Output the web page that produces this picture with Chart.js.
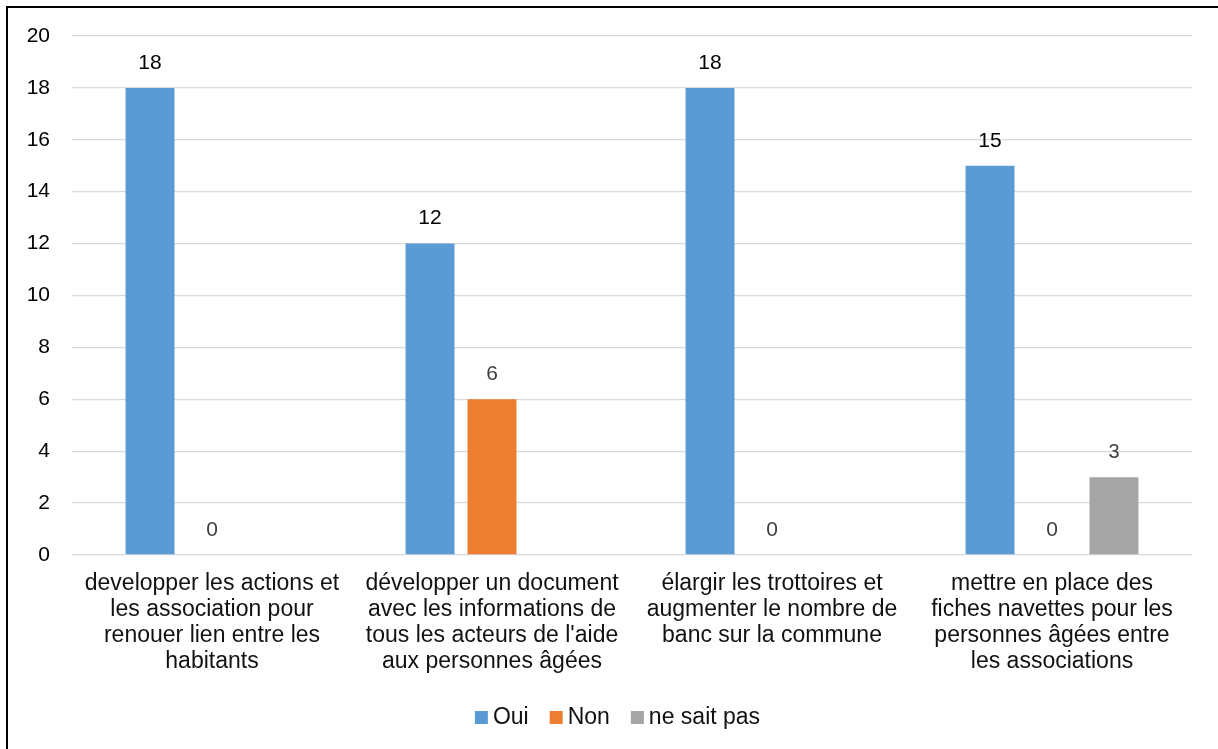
<!DOCTYPE html>
<html>
<head>
<meta charset="utf-8">
<script src="https://cdn.jsdelivr.net/npm/chart.js@4"></script>
<style>
  html, body { margin: 0; padding: 0; background: #fff; }
  #wrap { position: relative; width: 1218px; height: 749px; overflow: hidden; }
  #frame { position: absolute; left: 6px; top: 6px; width: 1300px; height: 800px;
           border-left: 2px solid #000; border-top: 2px solid #000; pointer-events: none; }
  canvas { position: absolute; left: 0; top: 0; }
</style>
</head>
<body>
<div id="wrap">
  <canvas id="c" width="1218" height="749"></canvas>
  <div id="frame"></div>
</div>
<script>
const categories = [
  ["developper les actions et", "les association pour", "renouer lien entre les", "habitants"],
  ["développer un document", "avec les informations de", "tous les acteurs de l'aide", "aux personnes âgées"],
  ["élargir les trottoires et", "augmenter le nombre de", "banc sur la commune"],
  ["mettre en place des", "fiches navettes pour les", "personnes âgées entre", "les associations"]
];
const seriesNames = ["Oui", "Non", "ne sait pas"];
const ouiValues = [18, 12, 18, 15];
const nonValues = [0, 6, 0, 0];
const nspValues = [null, null, null, 3];
const yTicks = [0, 2, 4, 6, 8, 10, 12, 14, 16, 18, 20];

const FONT = "'Liberation Sans', Arial, sans-serif";

const labelPlugin = {
  id: 'valueLabels',
  afterDatasetsDraw(chart) {
    const ctx = chart.ctx;
    ctx.save();
    ctx.textAlign = 'center';
    ctx.textBaseline = 'middle';
    chart.data.datasets.forEach((ds, di) => {
      const meta = chart.getDatasetMeta(di);
      meta.data.forEach((el, i) => {
        const v = ds.data[i];
        if (v === null || v === undefined) return;
        ctx.font = (di === 2 ? '20px ' : '21px ') + FONT;
        ctx.fillStyle = di === 0 ? '#000000' : '#404040';
        ctx.fillText(String(v), el.x, el.y - 25);
      });
    });
    ctx.restore();
  }
};

const legendPlugin = {
  id: 'customLegend',
  afterDraw(chart) {
    const ctx = chart.ctx;
    ctx.save();
    ctx.font = '23px ' + FONT;
    ctx.textBaseline = 'middle';
    ctx.textAlign = 'left';
    const box = 13, gap = 5, pad = 21;
    const items = chart.data.datasets.map(ds => ({ text: ds.label, color: ds.backgroundColor, w: ctx.measureText(ds.label).width }));
    let total = 0;
    items.forEach((it, i) => { total += box + gap + it.w + (i < items.length - 1 ? pad : 0); });
    let x = 617.5 - total / 2;
    const yMid = 718;
    items.forEach(it => {
      ctx.fillStyle = it.color;
      ctx.fillRect(x, yMid - 7, box, box);
      ctx.fillStyle = '#111111';
      ctx.fillText(it.text, x + box + gap, yMid);
      x += box + gap + it.w + pad;
    });
    ctx.restore();
  }
};

new Chart(document.getElementById('c'), {
  type: 'bar',
  data: {
    labels: categories,
    datasets: [
      { label: seriesNames[0], data: ouiValues, backgroundColor: '#5B9BD5' },
      { label: seriesNames[1], data: nonValues, backgroundColor: '#ED7D31' },
      { label: seriesNames[2], data: nspValues, backgroundColor: '#A5A5A5' }
    ]
  },
  options: {
    responsive: false,
    animation: false,
    datasets: { bar: { categoryPercentage: 0.664, barPercentage: 0.79, borderWidth: 0 } },
    layout: { padding: { left: 8, right: 26, top: 36, bottom: 58 } },
    plugins: {
      tooltip: { enabled: false },
      legend: { display: false }
    },
    scales: {
      x: {
        grid: { display: false, drawTicks: false },
        border: { display: false },
        ticks: {
          autoSkip: false, maxRotation: 0, minRotation: 0,
          padding: 16, color: '#111111',
          font: { family: FONT, size: 23, lineHeight: 26 / 23 }
        },
        afterFit(scale) { scale.height = 136; }
      },
      y: {
        min: 0, max: 20,
        afterBuildTicks(scale) { scale.ticks = yTicks.map(v => ({ value: v })); },
        grid: { color: '#D9D9D9', lineWidth: 1.3, drawTicks: false },
        border: { display: false },
        ticks: {
          padding: 22, color: '#000000',
          font: { family: FONT, size: 21 }
        },
        afterFit(scale) { scale.width = 64; }
      }
    }
  },
  plugins: [labelPlugin, legendPlugin]
});
</script>
</body>
</html>
